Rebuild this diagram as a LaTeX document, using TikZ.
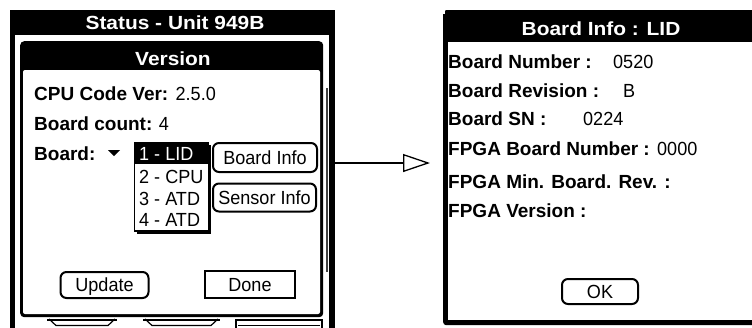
\documentclass[tikz,border=0pt]{standalone}
\usepackage{fontspec}
\setmainfont{Liberation Sans}
\newfontfamily\lblfont[FakeStretch=1.0]{Liberation Sans}
\newfontfamily\valfont[FakeStretch=0.95]{Liberation Sans}
\newfontfamily\ttlfont[FakeStretch=1.1]{Liberation Sans}
\usetikzlibrary{arrows.meta}
\tikzset{
  lbl/.style={anchor=base west, inner sep=0pt, font=\lblfont\bfseries\fontsize{19}{21}\selectfont},
  val/.style={anchor=base west, inner sep=0pt, font=\valfont\fontsize{19}{21}\selectfont},
  ttl/.style={anchor=base, inner sep=0pt, text=white, font=\ttlfont\bfseries\fontsize{19}{21}\selectfont},
  btn/.style={draw, line width=2pt, rounded corners=6pt, inner sep=0pt, text height=13.5pt, text depth=0pt, font=\valfont\fontsize{19}{21}\selectfont},
  blk/.style={fill=black, inner sep=0pt, anchor=north west},
}
\begin{document}
\begin{tikzpicture}[x=1pt, y=-1pt]
\useasboundingbox (0,0) rectangle (752,327);
% ---------- left screen ----------
\node[blk, minimum width=325pt, minimum height=330pt] (lscreen) at (10,10) {};
\fill[white] (15,35) rectangle (329,345);
\node[ttl] (lttl) at (175,29.3) {Status - Unit 949B};
\draw[line width=1.5pt, black!75] (327,88) -- (327,272);
% dialog
\node[blk, rounded corners=4pt, minimum width=303pt, minimum height=276pt] (dialog) at (20,41) {};
\fill[white, rounded corners=2pt] (23,70) rectangle (320,314);
\node[ttl] (dttl) at (173,65.3) {Version};
% underlying buttons peeking below
\draw[line width=2pt] (47,319.5) -- (117,319.5);
\draw[line width=1.2pt] (49,319) -- (56,325.5) -- (108,325.5) -- (115,319);
\draw[line width=2pt] (143,319.5) -- (220,319.5);
\draw[line width=1.2pt] (145,319) -- (152,325.5) -- (211,325.5) -- (218,319);
\draw[line width=2pt] (235,319.5) -- (323,319.5);
\draw[line width=2pt] (236,319) -- (236,332);
\draw[line width=2pt] (322,319) -- (322,332);
\draw[line width=1pt] (238,325) -- (320,325);
% labels
\node[lbl] (cpu) at (34,100) {CPU Code Ver:};
\node[val] (cpuval) at ([xshift=7pt]cpu.base east) {2.5.0};
\node[lbl] (cnt) at (34,130) {Board count:};
\node[val] (cntval) at ([xshift=6pt]cnt.base east) {4};
\node[lbl] (brd) at (34,160) {Board:};
\fill (108,150) -- (120,150) -- (114,156) -- cycle;
% dropdown list
\node[draw, line width=1.5pt, inner sep=0pt, anchor=north west, minimum width=74pt, minimum height=88pt] (list) at (133.5,142) {};
\fill (133.5,142) rectangle (207.5,164);
\draw[line width=2.5pt] ([xshift=3pt,yshift=-1pt]list.south west) -- ([xshift=1pt,yshift=-1pt]list.south east) -- ([xshift=1pt,yshift=-3pt]list.north east);
\node[val, text=white] (it1) at (139,160) {1 - LID};
\node[val] (it2) at (139,183) {2 - CPU};
\node[val] (it3) at (139,205) {3 - ATD};
\node[val] (it4) at (139,226.5) {4 - ATD};
% buttons
\node[btn, minimum width=104pt, minimum height=29pt] (binfo) at (265,157.5) {Board Info};
\node[btn, minimum width=103pt, minimum height=28pt] (sinfo) at (264.5,197.5) {Sensor Info};
\node[btn, minimum width=88pt, minimum height=26pt] (upd) at (104.5,285) {Update};
\node[btn, rounded corners=0pt, minimum width=90pt, minimum height=27pt] (done) at (250,284.5) {Done};
% ---------- right screen ----------
\node[blk, rounded corners=3pt, minimum width=330pt, minimum height=315pt] (rscreen) at (443,10) {};
\fill[white] (448,42) rectangle (780,320);
\fill[white] (443,10) rectangle (445,14);
\node[ttl] (rttl) at (601,35) {Board Info : LID};
\node[lbl] (bn) at (448,68) {Board Number :};
\node[val] (bnv) at (613,68) {0520};
\node[lbl] (br) at (448,97) {Board Revision :};
\node[val] (brv) at (623,97) {B};
\node[lbl] (bs) at (448,125) {Board SN :};
\node[val] (bsv) at (583,125) {0224};
\node[lbl] (fb) at (448,155) {FPGA Board Number :};
\node[val] (fbv) at (657,155) {0000};
\node[lbl] (fm) at (448,188) {FPGA Min. Board. Rev. :};
\node[lbl] (fv) at (448,217) {FPGA Version :};
\node[btn, minimum width=76pt, minimum height=25pt] (ok) at (600,291.5) {OK};
% ---------- arrow ----------
\coordinate (astart) at (335,163);
\draw[line width=1.3pt, shorten >=13pt, -{Triangle[open, length=27pt, width=18pt, line width=1.3pt]}] (astart) -- (astart -| rscreen.west);
\end{tikzpicture}
\end{document}
